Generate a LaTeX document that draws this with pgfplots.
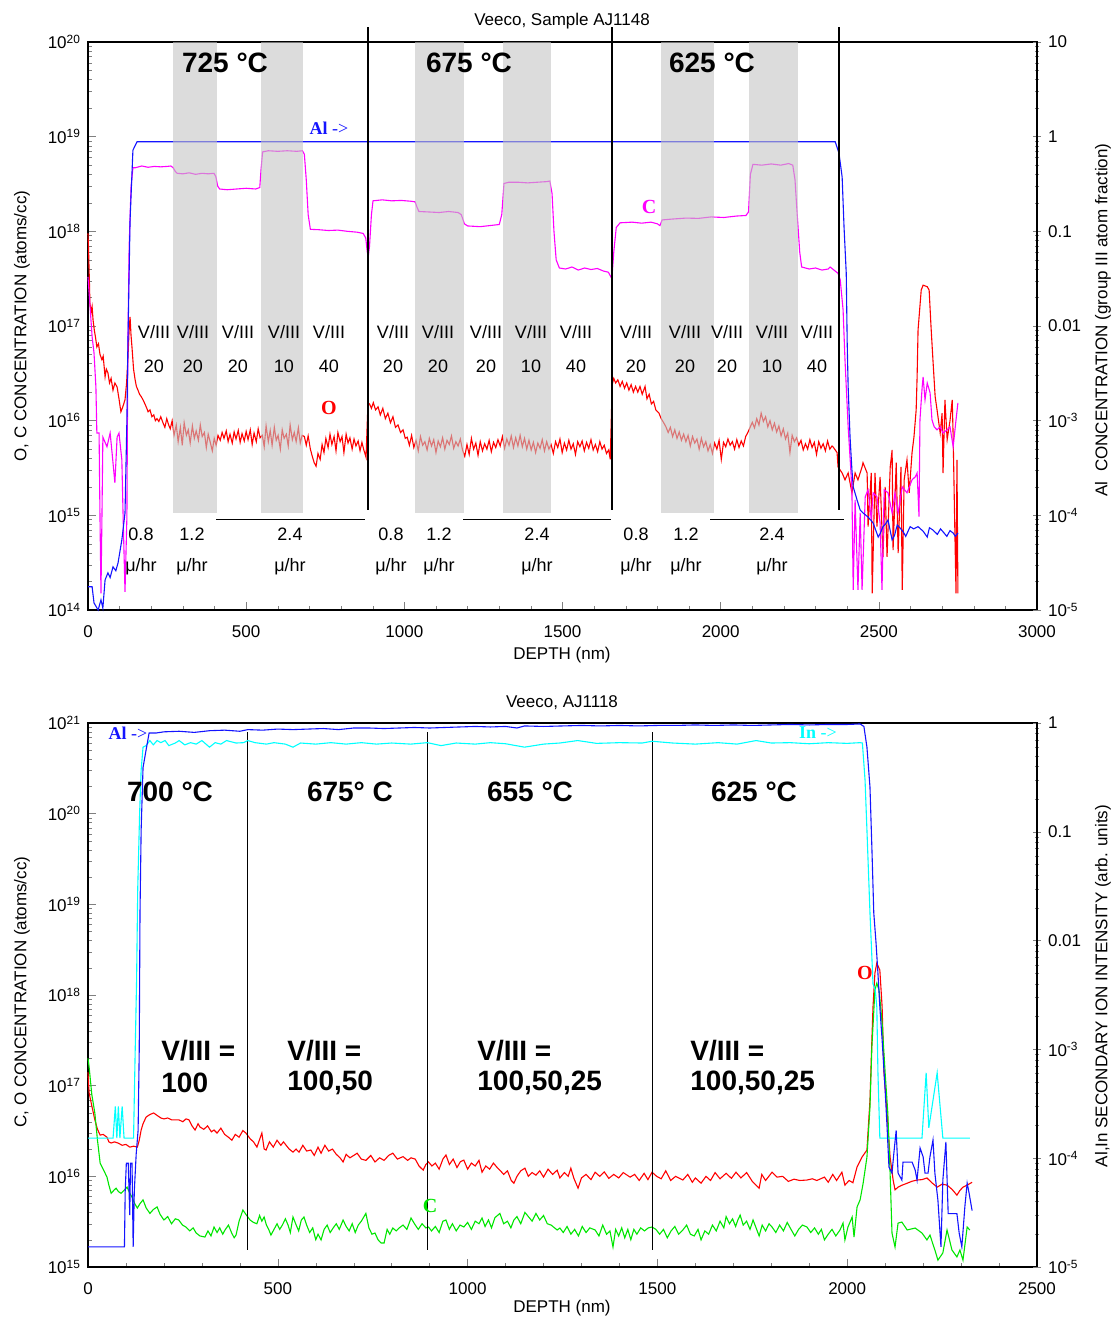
\documentclass[border=0pt]{standalone}
\usepackage{pgfplots}
\pgfplotsset{compat=1.18}
\usepackage{fontspec}
\setmainfont{Liberation Sans}
\newfontfamily\tnr{Liberation Serif}

\definecolor{cO}{RGB}{255,0,0}
\definecolor{cC}{RGB}{255,0,255}
\definecolor{cAl}{RGB}{20,20,255}
\definecolor{cIn}{RGB}{0,255,255}
\definecolor{cG}{RGB}{0,230,0}
\definecolor{band}{RGB}{196,196,196}

\pgfplotsset{
  scale only axis, width=474.5pt,
  axis line style={line width=0.6pt},
  major tick length=4pt, minor tick length=2pt,
  tick label style={font=\fontsize{8.5}{10}\selectfont},
  xticklabel style={yshift=-4.5pt},
  /pgf/number format/assume math mode=true,
  /pgf/number format/1000 sep={},
  every axis plot/.append style={line width=0.55pt, mark=none},
}

\begin{document}
\begin{tikzpicture}
\useasboundingbox (0,0) rectangle (556.5pt,-659.5pt);

% ---------------- top: AJ1148 ----------------
\begin{axis}[at={(44pt,-305pt)}, anchor=south west, height=284pt,
  ymode=log, clip=false, scaled x ticks=false,
  xmin=0, xmax=3000, ymin=1e14, ymax=1e20,
  xtick={0,500,...,3000}, minor x tick num=4,
  xtick pos=left, ytick pos=left,
  ytick={1e14,1e15,1e16,1e17,1e18,1e19,1e20},
  yticklabels={10\textsuperscript{14},10\textsuperscript{15},10\textsuperscript{16},10\textsuperscript{17},10\textsuperscript{18},10\textsuperscript{19},10\textsuperscript{20}}]
% O
\addplot[cO] coordinates {
(0,9.5e17) (2,6.0e17) (5,2.5e17) (6,1.75e17) (10,1.4e17) (13,1.6e17) (16,1.16e17) (20,9.0e16) (24,7.5e16) (28,6.0e16) (33,6.5e16) (38,5.0e16) (44,4.4e16) (48,4.8e16) (54,2.9e16) (58,3.5e16) (63,3.2e16) (68,2.5e16) (73,2.8e16) (79,2.1e16) (85,2.5e16) (92,2.27e16) (98,1.7e16) (104,1.24e16) (110,1.4e16) (117,1.66e16) (122,2.5e16) (126,4.4e16) (130,9e16) (133,1.25e17) (136,8e16) (139,6.0e16) (144,3.5e16) (149,2.7e16) (153,2.3e16) (158,2.1e16) (163,1.9e16) (168,1.8e16) (174,1.66e16) (180,1.5e16) (186,1.35e16) (190,1.24e16) (196,1.3e16) (202,1.1e16) (208,1.15e16) (213,1.0e16) (218,1.05e16) (224,9.8e15) (230,1.1e16) (237,9.5e15) (243,8.5e15) (249,1.05e16) (255,9e15) (260,8.2e15) (266,1.0e16)
(272,7.0e15) (279,9.0e15) (285,6.0e15) (292,8.5e15) (298,5.5e15) (304,9.5e15) (311,7.0e15) (317,8.0e15) (323,5.8e15) (330,8.8e15) (336,6.5e15) (342,7.8e15) (349,6.2e15) (355,9.0e15) (361,6.8e15) (368,7.5e15) (374,5.2e15) (380,7.2e15) (386,6.0e15) (393,4.8e15) (399,6.5e15) (405,5.5e15) (411,7.0e15) (418,6.2e15) (424,7.5e15) (430,6.5e15) (437,7.8e15) (443,6.0e15) (449,7.2e15) (456,5.8e15) (462,7.6e15) (468,6.4e15) (475,7.9e15) (481,5.9e15) (487,7.3e15) (494,6.1e15) (500,7.7e15) (506,6.3e15) (513,8.0e15) (519,5.6e15) (525,7.4e15) (532,6.0e15) (538,8.2e15) (544,6.6e15) (551,7.0e15) (557,5.3e15) (563,8.8e15) (570,6.0e15) (576,7.9e15) (582,5.5e15) (589,8.5e15) (595,6.2e15) (601,7.0e15) (608,5.0e15) (614,8.0e15) (620,6.5e15) (627,7.2e15) (633,5.4e15) (639,9.0e15) (646,6.3e15) (652,7.5e15) (658,6.0e15) (665,8.4e15) (671,5.8e15) (677,7.0e15) (684,6.8e15) (690,5.5e15) (696,6.9e15) (703,5.0e15) (709,4.2e15) (715,3.6e15) (721,3.3e15) (727,4.5e15) (734,3.9e15) (740,5.6e15) (746,4.6e15) (752,6.5e15) (759,5.2e15) (765,7.2e15) (771,5.6e15) (778,6.8e15) (784,4.8e15) (790,7.5e15) (797,6.0e15) (803,6.8e15) (809,4.6e15) (816,7.2e15) (822,5.8e15) (828,6.6e15) (835,5.0e15) (841,6.4e15) (847,5.4e15) (854,6.1e15) (860,4.8e15) (866,5.9e15) (872,4.9e15) (879,4.1e15)
(885,1.54e16) (890,1.5e16) (896,1.35e16) (902,1.55e16) (909,1.3e16) (917,1.4e16) (924,1.15e16) (932,1.35e16) (940,1.05e16) (948,1.2e16) (956,9.5e15) (964,1.1e16) (972,8.5e15) (980,9.0e15) (988,7.5e15) (996,8.0e15) (1003,6.5e15) (1009,6.7e15)
(1016,5.5e15) (1023,7.0e15) (1030,5.2e15) (1037,6.2e15) (1044,4.8e15) (1051,6.8e15) (1058,5.5e15) (1065,6.0e15) (1072,4.9e15) (1079,6.5e15) (1086,5.4e15) (1093,6.3e15) (1100,4.6e15) (1107,6.1e15) (1114,5.3e15) (1121,6.6e15) (1128,5.0e15) (1135,6.2e15) (1142,5.6e15) (1149,6.9e15) (1156,5.1e15) (1163,6.0e15) (1170,5.4e15) (1177,6.4e15) (1184,4.9e15) (1191,4.2e15) (1198,5.6e15) (1205,4.4e15) (1212,6.5e15) (1219,5.0e15) (1226,5.8e15) (1233,4.3e15) (1240,6.0e15) (1247,4.8e15) (1254,5.7e15) (1261,5.0e15) (1268,6.2e15) (1275,4.7e15) (1282,5.9e15) (1289,5.2e15) (1296,6.3e15) (1303,5.4e15) (1310,6.8e15) (1317,5.1e15) (1324,6.4e15) (1331,5.5e15) (1338,6.9e15) (1345,5.2e15) (1352,6.6e15) (1359,5.4e15) (1366,7.0e15) (1373,5.3e15) (1380,6.5e15) (1387,5.0e15) (1394,6.2e15) (1401,4.9e15) (1408,5.9e15) (1415,4.6e15) (1422,5.8e15) (1429,5.1e15) (1436,6.3e15) (1443,4.8e15) (1450,6.0e15) (1457,5.0e15) (1464,5.6e15) (1471,4.5e15) (1478,6.0e15) (1485,5.2e15) (1492,6.4e15) (1499,4.6e15) (1506,5.8e15) (1513,4.9e15) (1520,6.2e15) (1527,5.0e15) (1534,5.7e15) (1541,4.4e15) (1548,6.0e15) (1555,5.3e15) (1562,6.1e15) (1569,4.8e15) (1576,5.9e15) (1583,5.1e15) (1590,6.3e15) (1597,4.9e15) (1604,5.6e15) (1611,4.7e15) (1618,6.0e15) (1625,5.0e15) (1632,5.5e15) (1639,4.5e15) (1646,4.9e15) (1651,3.9e15)
(1657,2.4e16) (1662,2.8e16) (1668,2.5e16) (1675,2.7e16) (1682,2.3e16) (1689,2.6e16) (1696,2.2e16) (1703,2.5e16) (1710,2.1e16) (1717,2.4e16) (1724,2.0e16) (1731,2.3e16) (1738,2.0e16) (1745,2.3e16) (1752,1.9e16) (1761,2.3e16) (1767,1.7e16) (1774,1.9e16) (1781,1.5e16) (1788,1.6e16) (1795,1.3e16) (1805,1.2e16) (1812,1.05e16) (1820,9.5e15) (1827,8.6e15) (1834,7.5e15) (1841,8.5e15) (1848,6.8e15) (1855,8.0e15) (1862,6.5e15) (1869,7.6e15) (1876,6.2e15) (1883,7.2e15) (1890,6.0e15) (1897,7.0e15) (1904,5.4e15) (1911,6.8e15) (1918,5.8e15) (1925,6.4e15) (1932,5.0e15) (1939,6.5e15) (1946,5.3e15) (1953,6.0e15) (1960,4.8e15) (1967,5.6e15) (1974,4.5e15) (1981,5.8e15) (1988,5.0e15) (1995,6.2e15) (2002,3.9e15) (2009,5.9e15) (2016,5.3e15) (2023,6.4e15) (2030,5.5e15) (2037,6.0e15) (2044,5.0e15) (2051,6.3e15) (2058,5.2e15) (2065,6.1e15) (2072,5.4e15) (2079,6.8e15) (2086,7.5e15)
(2093,8.5e15) (2100,9.6e15) (2107,8.4e15) (2114,1.05e16) (2121,9.0e15) (2128,1.2e16) (2135,9.8e15) (2142,1.1e16) (2149,8.6e15) (2156,1.0e16) (2163,8.0e15) (2170,9.4e15) (2177,7.6e15) (2184,8.8e15) (2191,6.9e15) (2198,8.2e15) (2205,6.4e15) (2212,7.4e15) (2219,4.6e15) (2226,7.0e15) (2233,6.0e15) (2240,6.6e15) (2247,5.5e15) (2254,6.2e15) (2261,4.9e15) (2268,5.7e15) (2275,5.0e15) (2282,6.3e15) (2289,5.2e15) (2296,5.9e15) (2303,4.4e15) (2310,6.0e15) (2317,5.1e15) (2324,5.7e15) (2331,4.8e15) (2338,6.1e15) (2345,5.0e15) (2352,5.4e15)
(2355,5.3e15) (2368,4.6e15) (2371,3.25e15) (2384,2.8e15) (2393,2.37e15) (2403,2.8e15) (2415,1.73e15) (2425,2.8e15) (2434,2.37e15) (2447,3.25e15) (2450,3.6e15) (2463,2.8e15) (2466,7.6e14) (2476,2.8e15) (2479,1.5e14) (2488,2.8e15) (2494,7.6e14) (2504,2.55e15) (2513,3.65e14) (2520,2.0e15) (2526,3.65e14) (2536,3.25e15) (2542,4.9e15) (2545,4.3e14) (2555,3.6e15) (2561,4.0e14) (2570,3.25e15) (2574,1.63e14) (2580,2.37e15) (2589,3.85e15) (2596,1.73e15) (2605,4.6e15) (2611,6.7e15) (2618,1.3e16) (2621,2.9e16) (2624,9.1e16) (2634,2.4e17) (2640,2.7e17) (2653,2.6e17) (2659,2.4e17) (2665,9.8e16) (2671,4.4e16) (2678,1.8e16) (2684,1.3e16) (2694,7.4e15) (2700,1.2e16) (2703,2.8e15) (2709,1.66e16) (2716,6.3e15) (2725,1.0e16) (2732,1.66e16) (2735,6.7e15) (2741,5.1e14) (2744,1.5e14) (2747,3.85e15) (2750,1.5e14)
};
% C
\addplot[cC] coordinates {
(0,3.3e17) (13,7.7e16) (19,5.2e16) (25,2.27e16) (28,7.4e15) (35,7.4e15) (38,9e14) (41,1.5e14) (44,9e14) (47,6.7e15) (60,5.3e15) (70,7.4e15) (76,4.6e15) (85,2.2e15) (92,6.7e15) (98,7.4e15) (107,3.85e15) (111,9.7e14) (117,1.55e14) (123,9.7e14) (126,6e16) (130,6.8e17) (136,2.9e18) (142,4.7e18)
(150,4.7e18) (170,4.9e18) (190,4.75e18) (210,4.85e18) (230,4.8e18) (250,4.85e18) (262,4.9e18) (269,4.7e18) (276,4.3e18) (282,4.1e18) (300,4.05e18) (320,4.15e18) (340,4.0e18) (360,4.1e18) (380,4.05e18) (398,4.1e18) (404,3.8e18) (410,3.0e18) (416,2.8e18) (440,2.75e18) (470,2.8e18) (500,2.85e18) (530,2.8e18) (543,2.9e18) (547,4.5e18) (552,6.9e18) (570,7.1e18) (600,7.0e18) (630,7.1e18) (660,7.0e18) (678,7.1e18) (684,6.5e18) (690,3.5e18) (696,1.5e18) (703,1.05e18) (730,1.04e18) (760,1.02e18) (790,1.03e18) (820,1.0e18) (850,9.8e17) (870,9.5e17) (878,8.5e17) (883,6e17) (886,5.4e17) (890,7e17) (896,1.5e18) (901,2.1e18) (930,2.15e18) (960,2.1e18) (990,2.12e18) (1020,2.08e18) (1034,2.05e18) (1040,1.8e18) (1046,1.62e18) (1080,1.6e18) (1110,1.58e18) (1140,1.62e18) (1170,1.58e18) (1180,1.5e18) (1190,1.2e18) (1200,1.14e18) (1240,1.12e18) (1270,1.15e18) (1300,1.18e18) (1308,1.5e18) (1315,3.2e18) (1330,3.3e18) (1360,3.3e18) (1390,3.25e18) (1420,3.3e18) (1450,3.35e18) (1460,3.4e18) (1467,2.5e18) (1473,1.0e18) (1480,5.0e17) (1490,4.1e17) (1510,4.0e17) (1530,4.2e17) (1550,3.9e17) (1570,4.1e17) (1590,3.95e17) (1610,4.05e17) (1630,3.8e17) (1645,3.7e17) (1653,3.3e17) (1657,3.5e17) (1662,6e17) (1670,1.1e18) (1682,1.23e18) (1720,1.25e18) (1750,1.22e18) (1780,1.25e18) (1800,1.2e18) (1808,1.15e18) (1815,1.32e18) (1850,1.35e18) (1890,1.38e18) (1930,1.37e18) (1970,1.42e18) (2010,1.4e18) (2050,1.45e18) (2080,1.47e18) (2088,1.6e18) (2094,4.0e18) (2102,5.1e18) (2130,5.0e18) (2160,5.15e18) (2190,5.0e18) (2215,5.2e18) (2228,5.0e18) (2235,3.5e18) (2242,1.5e18) (2250,6e17) (2256,4.2e17) (2280,4.0e17) (2300,4.1e17) (2320,3.9e17) (2340,4.0e17) (2346,4.2e17) (2371,3.6e17)
(2378,3.07e17) (2387,1.48e17) (2393,4.4e16) (2403,8.6e15) (2412,2.8e15) (2415,1.73e15) (2419,1.63e14) (2425,1.46e15) (2434,1.63e14) (2441,1.06e15) (2447,1.63e14) (2457,1.57e15) (2466,1.86e15) (2476,9.0e14) (2482,1.73e15) (2494,1.57e15) (2504,8.3e14) (2510,1.63e14) (2517,1.86e15) (2529,1.73e15) (2542,1.06e15) (2551,1.73e15) (2561,1.06e15) (2574,2.0e15) (2589,1.73e15) (2605,2.37e15) (2615,2.55e15) (2621,2.8e15) (2627,9.7e14) (2630,1.02e16) (2637,2.27e16) (2640,2.9e16) (2646,1.66e16) (2653,2.5e16) (2662,1.97e16) (2668,1.02e16) (2675,8.6e15) (2684,8.0e15) (2694,8.6e15) (2703,7.4e15) (2716,8.0e15) (2725,8.6e15) (2735,5.3e15) (2744,1.02e16) (2750,1.54e16)
};
\end{axis}

\begin{axis}[at={(44pt,-305pt)}, anchor=south west, height=284pt,
  ymode=log, clip=false,
  xmin=0, xmax=3000, ymin=1e-5, ymax=10,
  axis y line*=right, axis x line=none, ytick pos=right, tick align=center,
  ytick={1e-5,1e-4,1e-3,1e-2,1e-1,1,10},
  yticklabels={10\textsuperscript{-5},10\textsuperscript{-4},10\textsuperscript{-3},0.01,0.1,1,10}]
% Al
\addplot[cAl] coordinates {
(0,1.76e-5) (13,1.76e-5) (19,1.19e-5) (32,1.0e-5) (41,1.28e-5) (47,1.05e-5) (54,2.08e-5) (63,2.47e-5) (70,2.2e-5) (79,2.86e-5) (88,2.6e-5) (95,3.15e-5) (107,5.5e-5) (117,1.06e-4) (123,1.02e-3) (126,6.0e-3) (133,0.132) (142,0.72) (155,0.885) (2362,0.885) (2374,0.67) (2384,0.375) (2390,0.111) (2397,0.036) (2400,6.6e-3) (2403,2.28e-3) (2409,6.7e-4) (2415,3.0e-4) (2419,2.0e-4) (2431,1.46e-4) (2441,1.14e-4) (2450,1.06e-4) (2466,9.6e-5) (2482,8.3e-5) (2498,5.9e-5) (2505,6.5e-5) (2513,7.6e-5) (2520,8.0e-5) (2529,8.95e-5) (2542,5.5e-5) (2550,6.2e-5) (2558,7.9e-5) (2565,7.5e-5) (2577,6.7e-5) (2585,6.0e-5) (2599,7.6e-5) (2610,7.2e-5) (2624,7.6e-5) (2640,6.8e-5) (2653,5.9e-5) (2660,7.4e-5) (2671,7.0e-5) (2685,6.3e-5) (2695,7.2e-5) (2703,6.7e-5) (2715,6.0e-5) (2725,6.9e-5) (2735,6.5e-5) (2742,6.0e-5) (2750,6.5e-5)
};
% grey bands over the curves
\fill[band, opacity=0.6] (axis cs:269,1.06e-4) rectangle (axis cs:408,10);
\fill[band, opacity=0.6] (axis cs:547,1.06e-4) rectangle (axis cs:680,10);
\fill[band, opacity=0.6] (axis cs:1034,1.06e-4) rectangle (axis cs:1189,10);
\fill[band, opacity=0.6] (axis cs:1312,1.06e-4) rectangle (axis cs:1464,10);
\fill[band, opacity=0.6] (axis cs:1812,1.06e-4) rectangle (axis cs:1979,10);
\fill[band, opacity=0.6] (axis cs:2090,1.06e-4) rectangle (axis cs:2245,10);
\draw[black, line width=0.8pt] (axis cs:885,14.4) -- (axis cs:885,1.14e-4);
\draw[black, line width=0.8pt] (axis cs:1657,14.4) -- (axis cs:1657,1.14e-4);
\draw[black, line width=0.8pt] (axis cs:2374,14.4) -- (axis cs:2374,1.14e-4);
\draw[black, line width=0.6pt] (axis cs:405,8.97e-5) -- (axis cs:876,8.97e-5);
\draw[black, line width=0.6pt] (axis cs:1187,8.97e-5) -- (axis cs:1652,8.97e-5);
\draw[black, line width=0.6pt] (axis cs:1967,8.97e-5) -- (axis cs:2390,8.97e-5);
\end{axis}

% ---------------- bottom: AJ1118 ----------------
\begin{axis}[at={(44pt,-633.5pt)}, anchor=south west, height=272pt,
  ymode=log, clip=false, scaled x ticks=false,
  xmin=0, xmax=2500, ymin=1e15, ymax=1e21,
  xtick={0,500,...,2500}, minor x tick num=4,
  xtick pos=left, ytick pos=left,
  ytick={1e15,1e16,1e17,1e18,1e19,1e20,1e21},
  yticklabels={10\textsuperscript{15},10\textsuperscript{16},10\textsuperscript{17},10\textsuperscript{18},10\textsuperscript{19},10\textsuperscript{20},10\textsuperscript{21}}]
% O
\addplot[cO] coordinates {
(0,1.4e17) (3,8.3e16) (10,6e16) (18,4.2e16) (25,3.3e16) (32,2.85e16) (40,2.9e16) (50,2.7e16) (55,2.4e16) (61,2.33e16) (70,2.4e16) (79,2.33e16) (90,2.2e16) (100,2.25e16) (110,2.1e16) (120,2.15e16) (130,2.1e16) (135,2.5e16) (140,3.24e16) (145,3.8e16) (153,4.5e16) (163,4.8e16) (173,5.0e16) (182,4.7e16) (192,4.4e16) (200,4.3e16) (210,4.4e16) (220,4.2e16) (239,4.2e16) (250,4.0e16) (258,4.3e16) (266,4.2e16) (274,3.6e16) (282,3.24e16) (290,3.8e16) (295,3.5e16) (305,3.3e16) (315,3.6e16) (325,3.1e16) (332,3.24e16) (340,3.0e16) (350,3.4e16) (360,2.9e16) (370,2.7e16) (379,2.5e16) (388,2.9e16) (398,2.7e16) (408,3.2e16) (416,3.0e16) (427,2.6e16) (436,2.4e16) (445,2.1e16) (458,3.0e16) (464,2.0e16) (469,1.95e16) (478,2.4e16) (488,2.1e16) (498,2.5e16) (508,2.2e16) (515,2.4e16) (522,2.2e16) (530,2.0e16) (540,1.85e16) (548,2.0e16) (556,1.85e16) (566,2.2e16) (576,1.9e16) (587,1.95e16) (596,1.7e16) (606,2.1e16) (614,1.8e16) (624,2.2e16) (634,1.9e16) (644,2.0e16) (654,1.75e16) (664,1.6e16) (672,1.44e16) (680,1.75e16) (690,1.6e16) (700,1.7e16) (709,1.8e16) (720,1.55e16) (732,1.5e16) (745,1.7e16) (756,1.44e16) (768,1.6e16) (780,1.5e16) (792,1.7e16) (803,1.8e16) (815,1.55e16) (830,1.65e16) (842,1.5e16) (851,1.6e16) (862,1.55e16) (872,1.3e16) (883,1.17e16) (890,1.35e16) (897,1.44e16) (906,1.3e16) (915,1.4e16) (925,1.2e16) (935,1.55e16) (943,1.72e16) (952,1.35e16) (962,1.55e16) (972,1.25e16) (981,1.45e16) (990,1.51e16) (1000,1.2e16) (1010,1.4e16) (1020,1.3e16) (1030,1.5e16) (1038,1.11e16) (1048,1.3e16) (1058,1.2e16) (1068,1.4e16) (1078,1.25e16) (1085,1.17e16) (1095,1.05e16) (1105,1.15e16) (1115,9.0e15) (1122,8.4e15) (1130,1.0e16) (1140,1.15e16) (1151,1.23e16) (1160,1.0e16) (1170,1.1e16) (1180,1.03e16) (1190,1.15e16) (1200,9.8e15) (1212,1.2e16) (1224,1.05e16) (1236,1.17e16) (1243,9.6e15) (1255,1.1e16) (1265,1.0e16) (1272,1.23e16) (1280,9.5e15) (1291,7.4e15) (1300,9.6e15) (1312,1.05e16) (1325,9.2e15) (1336,1.11e16) (1348,1.0e16) (1360,1.12e16) (1372,9.5e15) (1385,1.05e16) (1398,9.6e15) (1410,1.1e16) (1428,9.8e15) (1440,1.05e16) (1452,9.0e15) (1465,1.08e16) (1475,9.2e15) (1486,1.11e16) (1498,1.0e16) (1510,9.4e15) (1522,1.15e16) (1535,9.0e15) (1548,1.0e16) (1567,9.1e15) (1580,1.05e16) (1592,8.6e15) (1600,9.6e15) (1615,8.4e15) (1628,1.0e16) (1640,9.0e15) (1652,1.1e16) (1665,9.4e15) (1681,1.08e16) (1695,9.5e15) (1707,1.11e16) (1720,9.6e15) (1735,1.1e16) (1750,8.8e15) (1768,7.4e15) (1775,1.05e16) (1785,9.0e15) (1802,1.11e16) (1815,9.8e15) (1830,1.0e16) (1845,8.8e15) (1860,9.3e15) (1875,9.0e15) (1894,9.1e15) (1908,9.4e15) (1920,9.0e15) (1940,9.8e15) (1950,8.6e15) (1962,1.05e16) (1972,9.0e15) (1986,1.11e16) (1994,8.0e15) (2005,9.0e15) (2015,8.5e15) (2026,1.27e16) (2039,1.63e16) (2052,1.95e16) (2060,6.9e16) (2065,3.2e17) (2068,7.4e17) (2073,1.74e18) (2078,2.25e18) (2086,1.88e18) (2092,7.4e17) (2097,1.38e17) (2105,5.0e16) (2113,1.63e16) (2121,9.1e15) (2126,7.1e15) (2134,7.6e15) (2145,8.0e15) (2158,8.4e15) (2170,8.8e15) (2184,9.1e15) (2197,9.2e15) (2210,9.6e15) (2223,8.5e15) (2237,7.6e15) (2250,8.2e15) (2263,8.0e15) (2276,7.2e15) (2289,6.2e15) (2297,7.0e15) (2305,7.6e15) (2316,8.0e15) (2329,8.6e15)
};
% C
\addplot[cG] coordinates {
(0,2.0e17) (3,1.6e17) (10,8e16) (18,5.0e16) (25,2.5e16) (32,1.4e16) (40,1.2e16) (50,9.8e15) (55,8.0e15) (61,6.5e15) (68,7.0e15) (74,7.4e15) (80,6.8e15) (87,6.5e15) (95,7.0e15) (103,7.6e15) (110,6.5e15) (116,5.9e15) (123,5.0e15) (130,4.47e15) (137,5.0e15) (145,5.5e15) (153,4.5e15) (163,3.9e15) (172,4.3e15) (182,4.6e15) (190,3.8e15) (200,3.3e15) (210,3.6e15) (220,3.0e15) (230,3.4e15) (239,3.3e15) (249,2.9e15) (258,2.76e15) (268,2.5e15) (277,2.7e15) (285,2.37e15) (295,2.2e15) (308,2.14e15) (316,2.5e15) (324,2.2e15) (332,2.76e15) (340,2.4e15) (347,2.7e15) (355,2.3e15) (361,2.56e15) (370,2.9e15) (378,2.4e15) (385,2.1e15) (390,2.25e15) (398,3.2e15) (408,4.25e15) (416,3.8e15) (427,3.3e15) (436,3.1e15) (445,3.0e15) (452,3.7e15) (458,3.2e15) (464,3.56e15) (470,2.9e15) (476,2.6e15) (482,2.25e15) (490,2.6e15) (498,3.0e15) (505,2.6e15) (512,2.9e15) (520,3.4e15) (527,2.9e15) (533,2.4e15) (540,3.56e15) (547,3.0e15) (555,2.5e15) (562,3.3e15) (569,3.56e15) (576,2.9e15) (584,2.4e15) (592,2.7e15) (600,2.0e15) (606,2.3e15) (614,1.99e15) (622,2.6e15) (630,2.9e15) (638,2.4e15) (646,2.7e15) (654,3.0e15) (662,2.6e15) (672,3.3e15) (680,2.8e15) (688,2.5e15) (696,3.0e15) (704,2.4e15) (712,2.9e15) (720,3.2e15) (732,3.9e15) (740,2.7e15) (748,2.3e15) (756,2.37e15) (764,2.0e15) (772,1.84e15) (780,1.84e15) (788,2.6e15) (795,2.3e15) (803,2.69e15) (812,2.5e15) (820,2.7e15) (830,2.9e15) (840,2.6e15) (851,3.47e15) (860,3.0e15) (870,2.6e15) (880,3.0e15) (890,2.7e15) (897,2.76e15) (905,2.5e15) (915,2.8e15) (925,2.4e15) (935,3.2e15) (943,3.3e15) (952,2.6e15) (960,3.0e15) (970,2.5e15) (980,2.9e15) (990,2.76e15) (1000,3.1e15) (1010,2.6e15) (1020,3.2e15) (1030,3.0e15) (1038,3.47e15) (1046,2.8e15) (1055,3.3e15) (1063,2.7e15) (1072,3.5e15) (1085,3.9e15) (1095,3.0e15) (1105,3.2e15) (1114,2.7e15) (1122,3.3e15) (1130,3.6e15) (1140,3.0e15) (1151,4.0e15) (1160,3.6e15) (1170,3.2e15) (1180,3.9e15) (1190,3.3e15) (1200,3.7e15) (1210,3.0e15) (1220,2.9e15) (1236,2.56e15) (1243,2.69e15)
(1252,2.4e15) (1262,2.8e15) (1272,2.3e15) (1282,2.6e15) (1292,2.2e15) (1302,2.8e15) (1312,2.4e15) (1322,2.7e15) (1336,2.56e15) (1346,2.2e15) (1356,2.9e15) (1366,2.3e15) (1375,2.5e15) (1383,1.66e15) (1390,2.6e15) (1398,2.2e15) (1406,2.7e15) (1414,2.1e15) (1422,2.6e15) (1430,2.0e15) (1438,2.6e15) (1446,2.3e15) (1456,2.7e15) (1466,2.5e15) (1476,2.7e15) (1486,2.76e15) (1496,2.6e15) (1506,2.3e15) (1516,2.6e15) (1526,2.1e15) (1536,2.5e15) (1546,2.8e15) (1556,2.3e15) (1567,2.56e15) (1577,2.9e15) (1587,2.3e15) (1597,2.2e15) (1607,2.6e15) (1615,1.99e15) (1625,2.5e15) (1635,2.3e15) (1645,2.9e15) (1655,2.5e15) (1665,3.2e15) (1675,2.7e15) (1681,3.6e15) (1690,3.0e15) (1698,3.4e15) (1706,2.8e15) (1712,3.3e15) (1718,3.74e15) (1726,2.9e15) (1735,3.2e15) (1744,2.6e15) (1752,3.3e15) (1760,2.7e15) (1768,2.2e15) (1776,2.9e15) (1785,2.5e15) (1794,3.0e15) (1802,2.76e15) (1812,2.4e15) (1822,2.9e15) (1832,2.5e15) (1842,3.1e15) (1852,2.6e15) (1862,2.2e15) (1872,2.6e15) (1882,2.9e15) (1894,2.76e15) (1904,2.4e15) (1914,2.7e15) (1924,2.3e15) (1932,2.6e15) (1940,1.99e15) (1950,2.3e15) (1960,2.6e15) (1970,2.2e15) (1981,2.56e15) (1989,3.05e15) (1994,1.99e15) (2002,2.76e15) (2013,3.56e15) (2018,2.14e15) (2026,4.6e15) (2034,5.5e15) (2042,8.4e15) (2052,1.63e16) (2060,5.8e16) (2065,2.67e17) (2073,1.13e18) (2078,1.35e18) (2084,1.13e18) (2092,4.9e17) (2100,1.38e17) (2107,5.0e16) (2113,1.09e16) (2118,2.37e15) (2126,1.66e15) (2134,3.05e15) (2144,3.13e15) (2158,2.56e15) (2179,2.69e15) (2197,2.37e15) (2210,1.99e15) (2218,2.25e15) (2231,1.54e15) (2239,1.19e15) (2252,1.43e15) (2263,2.56e15) (2276,1.54e15) (2289,1.29e15) (2297,1.54e15) (2305,1.19e15) (2316,2.76e15) (2323,2.56e15)
};
\draw[black, line width=0.6pt] (axis cs:421,7.9e20) -- (axis cs:421,1.54e15);
\draw[black, line width=0.6pt] (axis cs:894,7.9e20) -- (axis cs:894,1.54e15);
\draw[black, line width=0.6pt] (axis cs:1487,7.9e20) -- (axis cs:1487,1.54e15);
\end{axis}

\begin{axis}[at={(44pt,-633.5pt)}, anchor=south west, height=272pt,
  ymode=log, clip=false,
  xmin=0, xmax=2500, ymin=1e-5, ymax=1,
  axis y line*=right, axis x line=none, ytick pos=right, tick align=center,
  ytick={1e-5,1e-4,1e-3,1e-2,1e-1,1},
  yticklabels={10\textsuperscript{-5},10\textsuperscript{-4},10\textsuperscript{-3},0.01,0.1,1}]
% In
\addplot[cIn] coordinates {
(0,1.53e-4) (66,1.53e-4) (72,3.0e-4) (76,1.53e-4) (80,3.0e-4) (84,1.53e-4) (90,3.0e-4) (95,1.53e-4) (120,1.53e-4) (124,8.5e-4) (128,4.3e-3) (131,0.03) (136,0.149) (140,0.37) (145,0.6) (153,0.62) (163,0.69) (172,0.63) (182,0.69) (192,0.66) (203,0.69) (213,0.62) (230,0.655) (240,0.69) (255,0.63) (270,0.66) (285,0.64) (300,0.69) (320,0.6) (335,0.66) (350,0.64) (365,0.69) (390,0.655) (410,0.66) (421,0.69) (440,0.66) (470,0.64) (490,0.66) (520,0.64) (540,0.6) (560,0.655) (600,0.64) (640,0.66) (680,0.64) (720,0.66) (760,0.64) (800,0.655) (850,0.64) (894,0.66) (930,0.62) (970,0.655) (1020,0.64) (1060,0.66) (1100,0.645) (1150,0.6) (1200,0.64) (1243,0.655) (1290,0.69) (1340,0.65) (1400,0.66) (1460,0.655) (1486,0.68) (1540,0.655) (1600,0.64) (1660,0.66) (1710,0.64) (1760,0.69) (1800,0.655) (1850,0.66) (1900,0.645) (1950,0.66) (2000,0.65) (2034,0.66) (2040,0.655) (2047,0.30) (2052,0.104) (2060,0.018) (2068,4.0e-3) (2074,3.5e-3) (2078,2.45e-3) (2081,6.1e-4) (2086,1.53e-4) (2197,1.53e-4) (2208,6.1e-4) (2215,1.9e-4) (2237,6.1e-4) (2252,1.53e-4) (2323,1.53e-4)
};
% Al
\addplot[cAl] coordinates {
(0,1.53e-5) (96,1.53e-5) (98,5e-5) (101,9.0e-5) (106,9.0e-5) (110,3e-5) (112,9.0e-5) (116,9.0e-5) (119,1.53e-5) (122,5e-5) (127,1.1e-4) (132,1.8e-4) (135,1e-3) (137,0.018) (140,0.104) (145,0.39) (153,0.565) (161,0.81) (180,0.81) (200,0.83) (240,0.84) (280,0.82) (320,0.85) (360,0.86) (400,0.84) (421,0.87) (460,0.86) (500,0.88) (540,0.87) (580,0.88) (620,0.89) (660,0.87) (700,0.9) (740,0.9) (780,0.89) (820,0.9) (860,0.91) (900,0.9) (940,0.91) (980,0.92) (1020,0.93) (1060,0.92) (1100,0.93) (1130,0.9) (1150,0.94) (1200,0.93) (1250,0.94) (1300,0.95) (1350,0.94) (1400,0.95) (1450,0.94) (1500,0.95) (1550,0.95) (1600,0.96) (1650,0.95) (1700,0.96) (1750,0.95) (1800,0.96) (1850,0.97) (1900,0.96) (1950,0.97) (2000,0.97) (2034,0.98) (2044,0.93) (2052,0.60) (2060,0.258) (2065,0.072) (2070,0.018) (2076,9.5e-3) (2081,5.0e-3) (2086,2.45e-3) (2092,1.22e-3) (2100,4.2e-4) (2105,1.94e-4) (2110,8.3e-5) (2118,7.3e-5) (2123,1.12e-4) (2129,1.8e-4) (2134,7.3e-5) (2144,6.3e-5) (2147,9.2e-5) (2171,9.2e-5) (2179,7.8e-5) (2184,6.3e-5) (2192,1.24e-4) (2200,1.03e-4) (2205,7.3e-5) (2213,7.3e-5) (2218,1.03e-4) (2226,1.47e-4) (2231,7.3e-5) (2239,4.1e-5) (2247,1.53e-5) (2252,6.3e-5) (2260,1.41e-4) (2266,3.1e-5) (2289,3.1e-5) (2295,2.05e-5) (2302,1.53e-5) (2310,3.6e-5) (2316,5.9e-5) (2321,4.8e-5) (2329,3.3e-5)
};
\end{axis}

% ---------------- text, in reference pixel units ----------------
\begin{scope}[x=0.5pt, y=-0.5pt, every node/.style={inner sep=0pt}]
\def\sm{\fontsize{8.5}{10}\selectfont}
\def\lab{\fontsize{9}{10}\selectfont}
\def\bigb{\fontsize{14}{16}\selectfont\bfseries}
% top
\node[font=\sm] at (562,21) {Veeco, Sample AJ1148};
\node[font=\bigb] at (225,63) {725 °C};
\node[font=\bigb] at (469,63) {675 °C};
\node[font=\bigb] at (712,63) {625 °C};
\node[text=cAl] at (329,128) {\fontsize{9}{10}\selectfont\tnr\bfseries Al \mdseries->};
\node[text=cC] at (649,207) {\fontsize{10}{10}\selectfont\tnr\bfseries C};
\node[text=cO] at (329,408) {\fontsize{10}{10}\selectfont\tnr\bfseries O};
\foreach \x/\n in {154/20,193/20,238/20,284/10,329/40,393/20,438/20,486/20,531/10,576/40,636/20,685/20,727/20,772/10,817/40}
  {\node[font=\lab] at (\x,332) {V/III};
   \node[font=\lab] at (\x,366) {\n};}
\foreach \x/\r in {141/0.8,192/1.2,290/2.4,391/0.8,439/1.2,537/2.4,636/0.8,686/1.2,772/2.4}
  {\node[font=\lab] at (\x,534) {\r};
   \node[font=\lab] at (\x,567) {μ/hr};}
\node[font=\sm, rotate=90] at (22,326) {O, C CONCENTRATION (atoms/cc)};
\node[font=\sm, rotate=90] at (1103,320) {Al\ \ CONCENTRATION (group III atom fraction)};
\node[font=\sm] at (562,655) {DEPTH (nm)};
% bottom
\node[font=\sm] at (562,703) {Veeco, AJ1118};
\node[font=\bigb] at (170,792) {700 °C};
\node[font=\bigb] at (350,792) {675° C};
\node[font=\bigb] at (530,792) {655 °C};
\node[font=\bigb] at (754,792) {625 °C};
\node[font=\bigb, anchor=west] at (161,1051) {V/III =};
\node[font=\bigb, anchor=west] at (161,1083) {100};
\node[font=\bigb, anchor=west] at (287,1051) {V/III =};
\node[font=\bigb, anchor=west] at (287,1083) {100,50};
\node[font=\bigb, anchor=west] at (477,1051) {V/III =};
\node[font=\bigb, anchor=west] at (477,1083) {100,50,25};
\node[font=\bigb, anchor=west] at (690,1051) {V/III =};
\node[font=\bigb, anchor=west] at (690,1083) {100,50,25};
\node[text=cAl] at (128,733) {\fontsize{9}{10}\selectfont\tnr\bfseries Al \mdseries->};
\node[text=cIn] at (818,733) {\fontsize{9}{10}\selectfont\tnr\bfseries In \mdseries->};
\node[text=cO] at (865,973) {\fontsize{10}{10}\selectfont\tnr\bfseries O};
\node[text=cG] at (430,1206) {\fontsize{10}{10}\selectfont\tnr\bfseries C};
\node[font=\sm, rotate=90] at (22,992) {C, O CONCENTRATION (atoms/cc)};
\node[font=\sm, rotate=90] at (1103,986) {Al,In SECONDARY ION INTENSITY (arb. units)};
\node[font=\sm] at (562,1308) {DEPTH (nm)};
\end{scope}
\end{tikzpicture}
\end{document}
